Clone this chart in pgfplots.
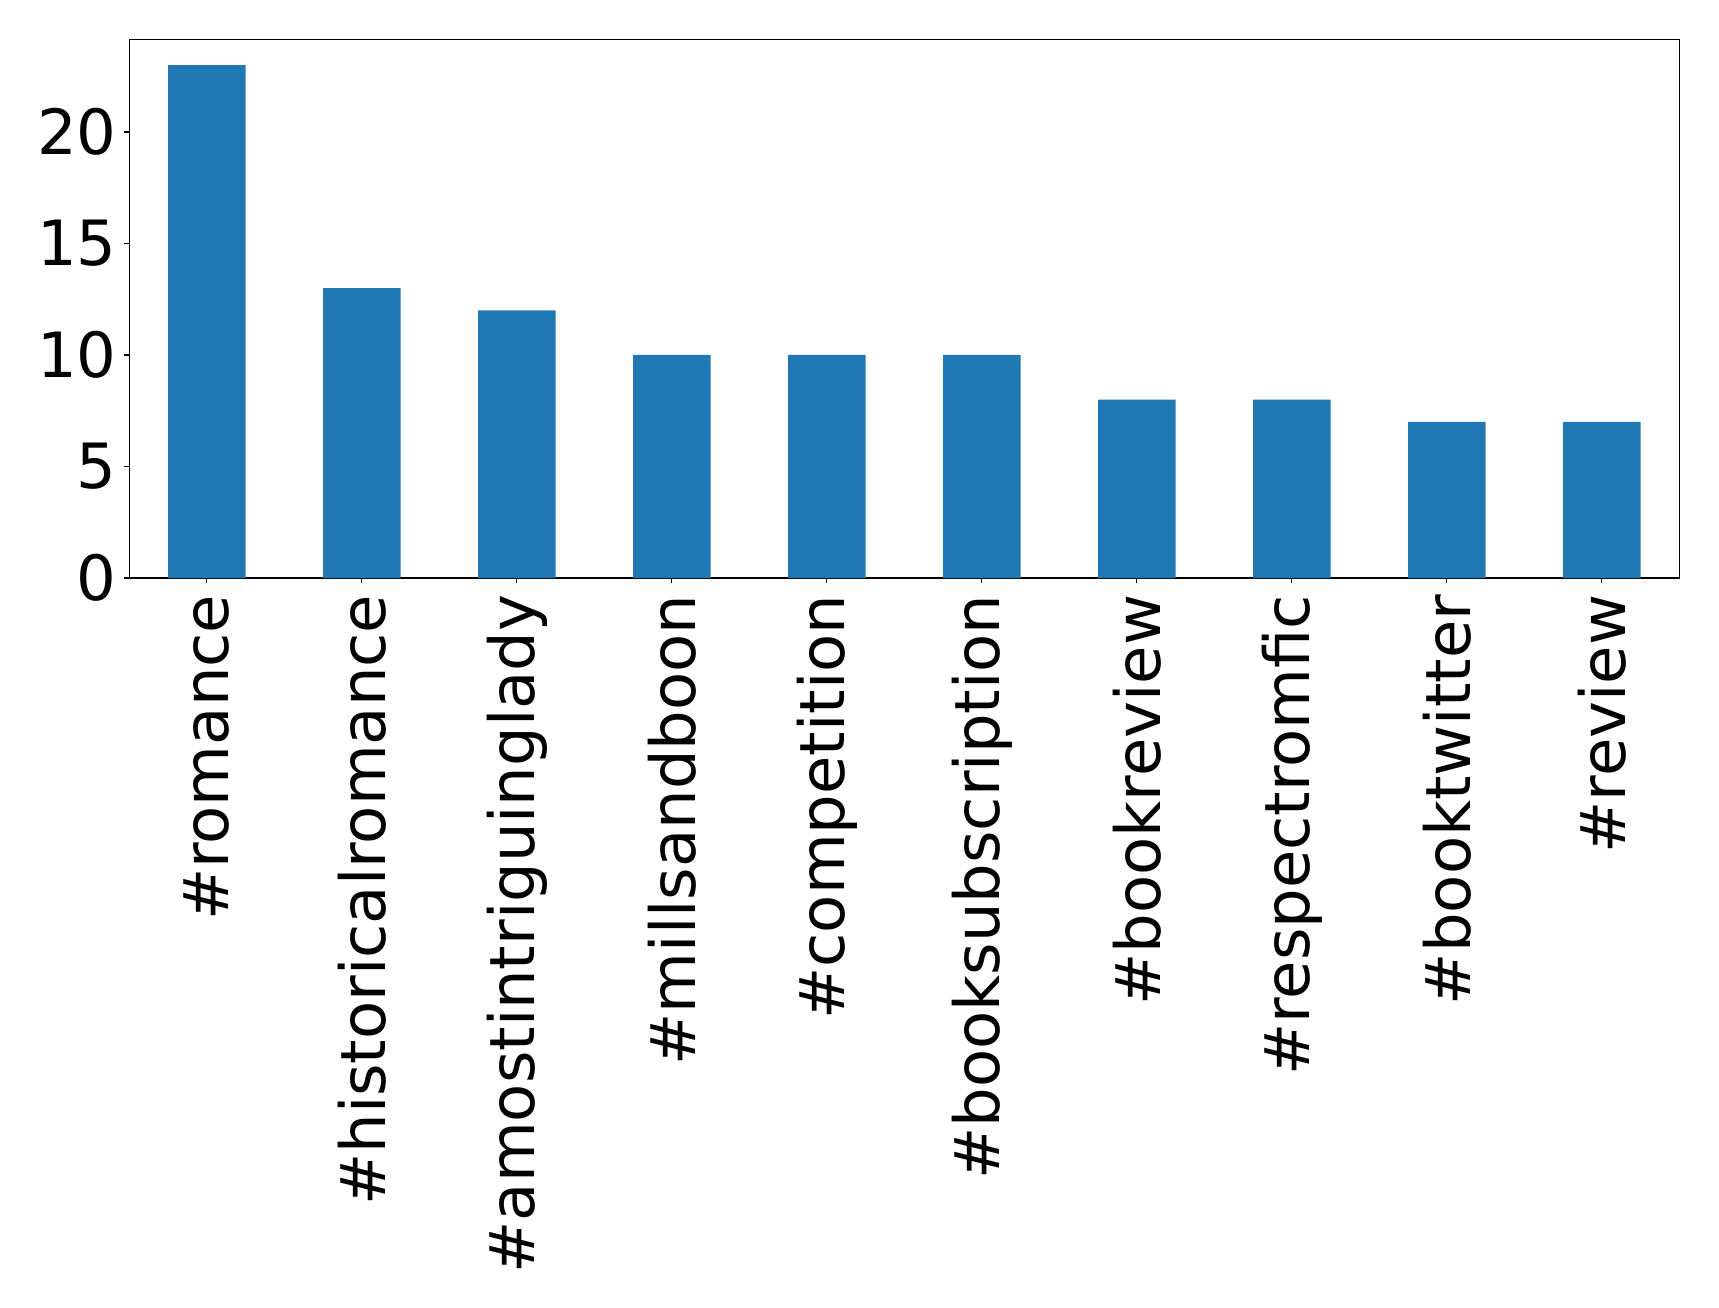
\documentclass[border=0pt]{standalone}
\usepackage{pgfplots}
\pgfplotsset{compat=1.18}
\usepackage{fontspec}
\setmainfont{DejaVu Sans}
\definecolor{mplblue}{HTML}{1F77B4}
\begin{document}
\begin{tikzpicture}
\path[use as bounding box] (-64.65pt,-364.5pt) rectangle (794.85pt,289pt);
\begin{axis}[
  at={(0,0)}, anchor=south west,
  scale only axis, width=775pt, height=269.3pt,
  xmin=-0.5, xmax=9.5, ymin=0, ymax=24.15,
  xtick={0,1,2,3,4,5,6,7,8,9},
  xticklabels={\#romance,\#historicalromance,\#amostintriguinglady,\#millsandboon,\#competition,\#booksubscription,\#bookreview,\#respectromfic,\#booktwitter,\#review},
  ytick={0,5,10,15,20},
  tick align=outside,
  xtick pos=bottom, ytick pos=left,
  major tick length=2.7pt,
  axis line style={line width=0.55pt},
  tick style={black, line width=0.55pt},
  /pgf/number format/assume math mode=true,
  tick label style={font=\fontsize{31.2}{37}\selectfont, inner sep=0pt},
  xticklabel shift=5.5pt,
  xticklabel style={rotate=90, anchor=east},
  yticklabel style={anchor=east, xshift=-3.5pt},
]
\addplot[ybar, bar width=0.5, fill=mplblue, draw=none] coordinates {
  (0,23) (1,13) (2,12) (3,10) (4,10) (5,10) (6,8) (7,8) (8,7) (9,7)
};
\end{axis}
\end{tikzpicture}
\end{document}
